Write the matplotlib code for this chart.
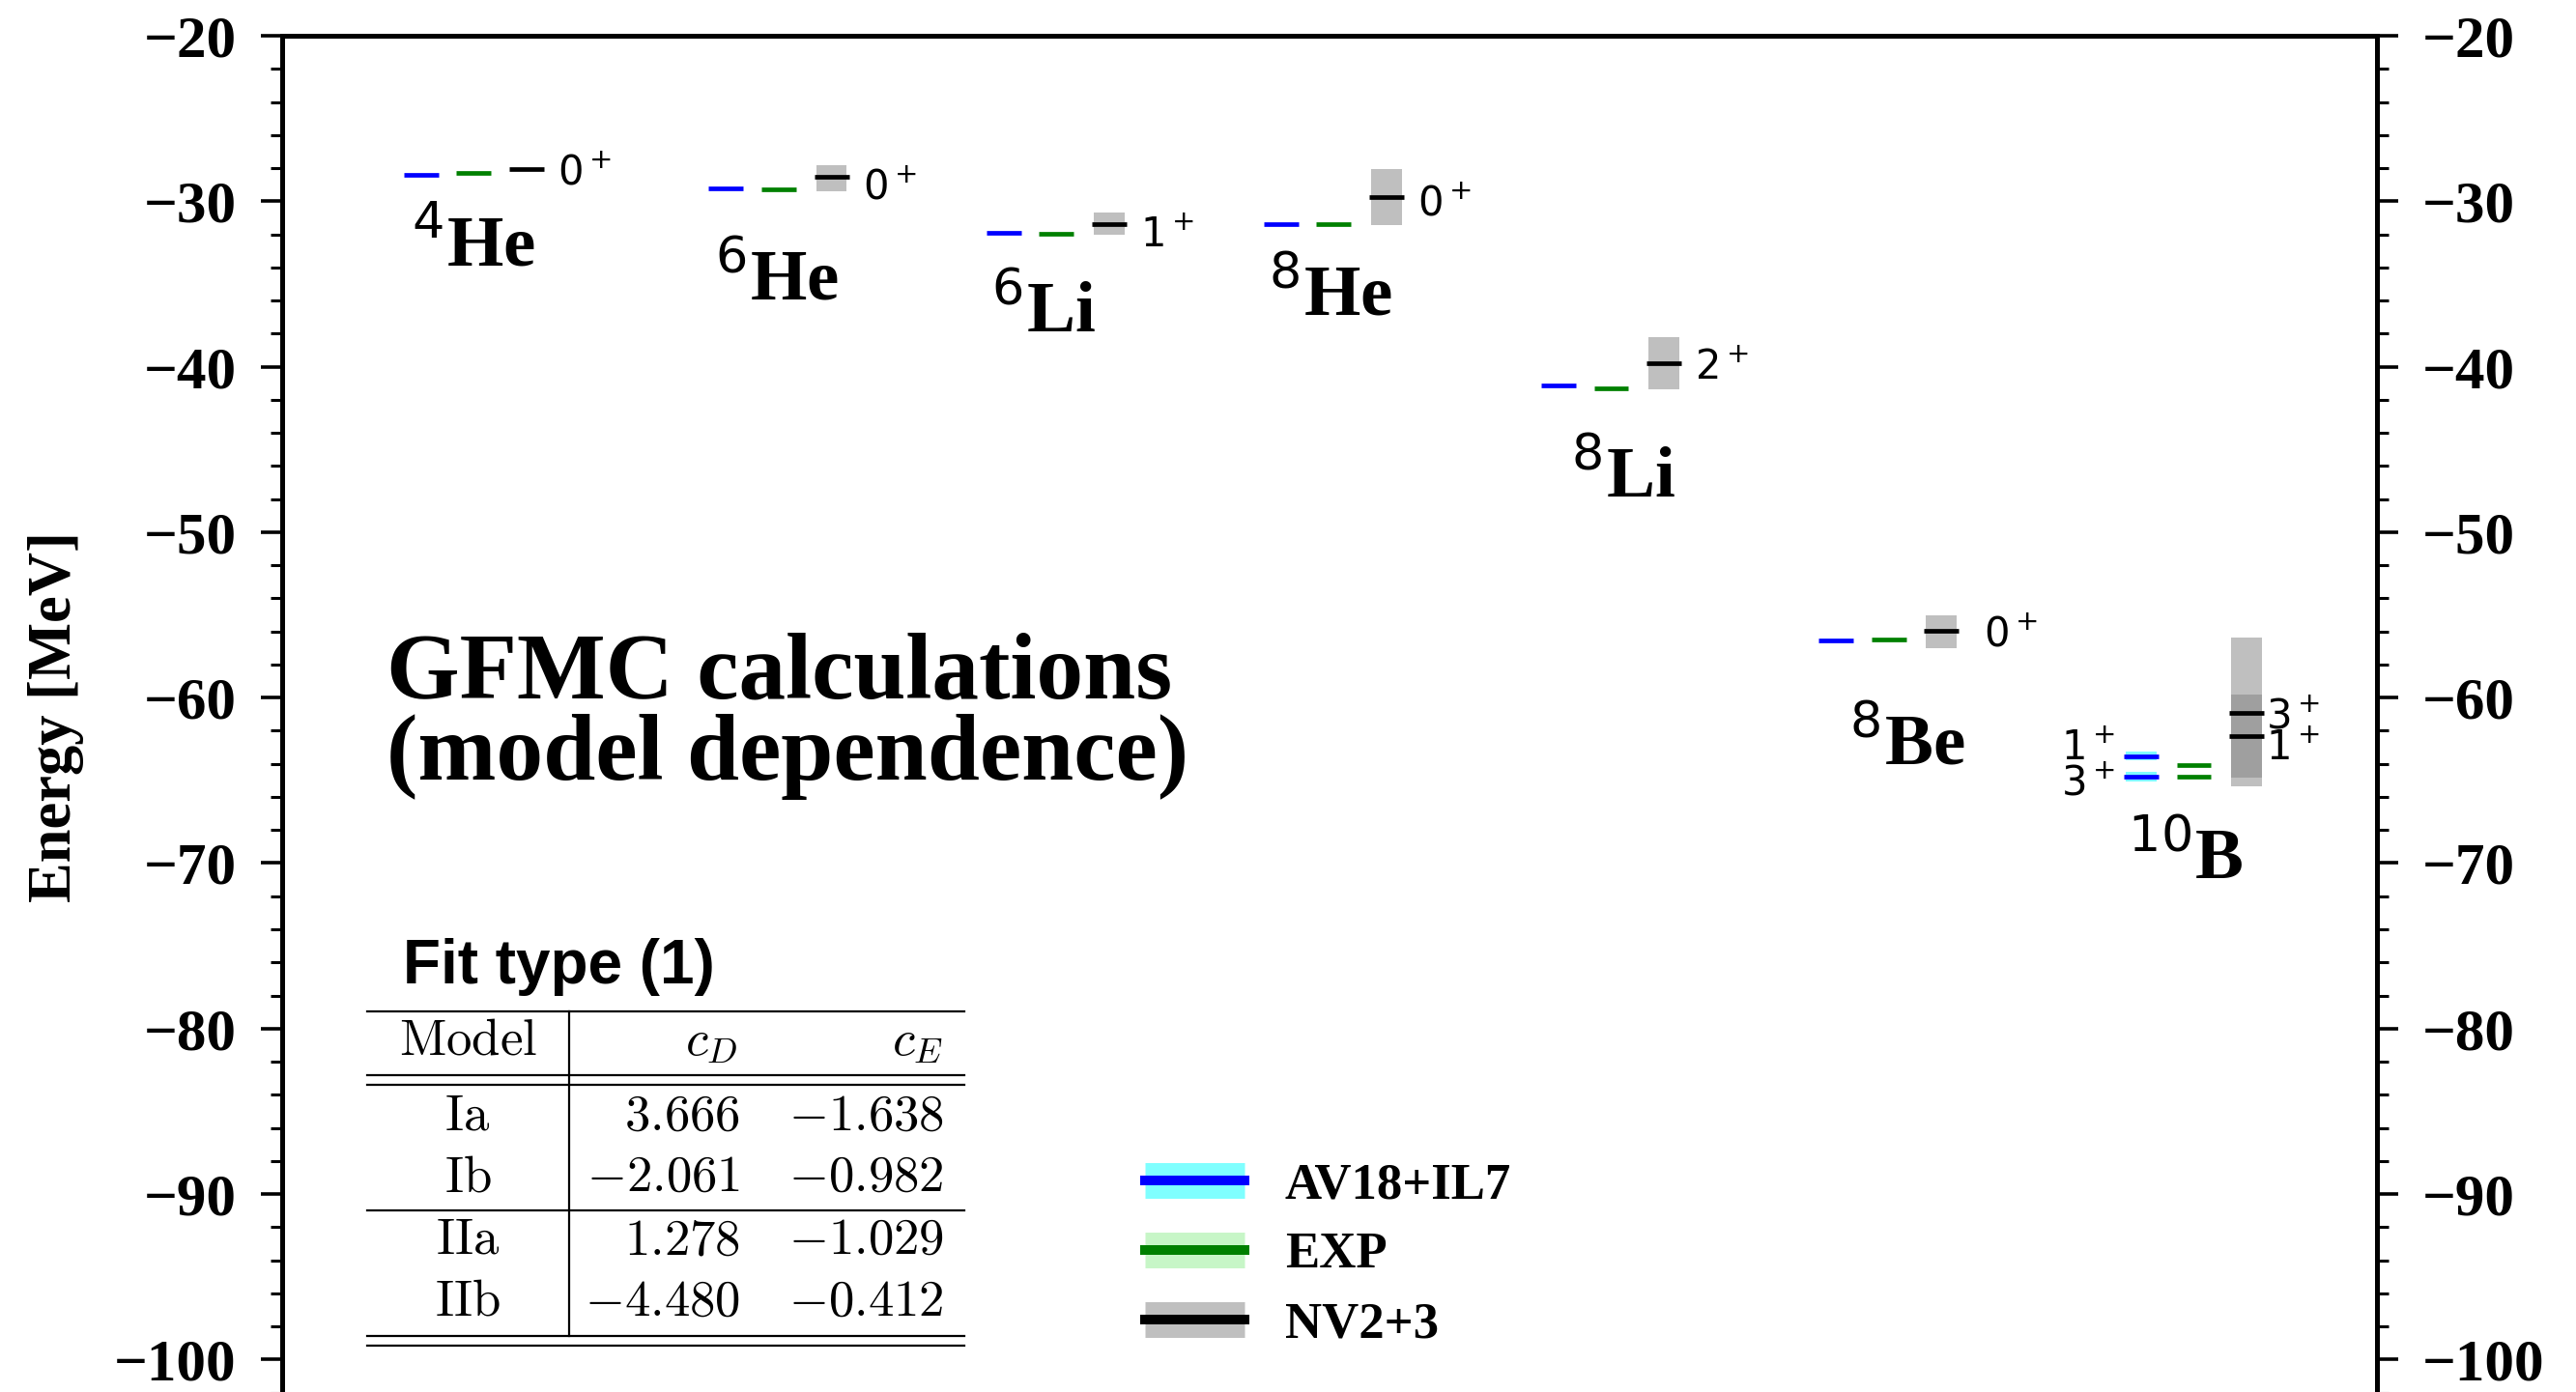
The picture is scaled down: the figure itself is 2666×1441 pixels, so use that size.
import matplotlib
matplotlib.use('Agg')
import matplotlib.pyplot as plt
from matplotlib.lines import Line2D
from matplotlib.legend_handler import HandlerTuple
from matplotlib.ticker import MultipleLocator

# nuclei shown, one column each
nuclei = [r'$^{4}$He', r'$^{6}$He', r'$^{6}$Li', r'$^{8}$He',
          r'$^{8}$Li', r'$^{8}$Be', r'$^{10}$B']

# levels (MeV): nucleus index, J^pi, AV18+IL7, EXP, NV2+3 with error bars
state_nucleus = [0, 1, 2, 3, 4, 5, 6, 6]
state_spin = ['0^+', '0^+', '1^+', '0^+', '2^+', '0^+', '3^+', '1^+']
e_av18 = [-28.41, -29.20, -31.90, -31.40, -41.15, -56.55, -64.77, -63.53]
err_av18 = [0.05, 0.05, 0.05, 0.10, 0.10, 0.10, 0.30, 0.25]
e_exp = [-28.30, -29.27, -31.99, -31.41, -41.28, -56.50, -64.75, -64.05]
e_nv = [-28.08, -28.54, -31.37, -29.75, -39.80, -55.98, -60.90, -62.30]
nv_plus = [0.0, 0.73, 0.69, 1.69, 1.56, 0.94, 4.53, 2.49]
nv_minus = [0.0, 0.84, 0.67, 1.71, 1.59, 1.01, 3.93, 3.08]

series = ['AV18+IL7', 'EXP', 'NV2+3']

# fit table
models = ['Ia', 'Ib', 'IIa', 'IIb']
c_D = [3.666, -2.061, 1.278, -4.480]
c_E = [-1.638, -0.982, -1.029, -0.412]

# ---- layout ----
W, H, DPI = 2666, 1441, 200
SERIF = 'Liberation Serif'
x_center = [0.5, 1.6, 2.6, 3.6, 4.6, 5.6, 6.7]
dx_exp, dx_nv = 0.19, 0.38
hw, bw = 0.0625, 0.055          # half widths of level lines / bands
label_x = [0.466, 1.559, 2.555, 3.554, 4.647, 5.649, 6.652]
label_y = [-33.95, -35.94, -37.9, -36.9, -47.9, -64.07, -70.96]
spin_dy = [0.02, -0.39, -0.48, -0.17, -0.05, 0.02, -0.02, -0.55]
spin_gap = [0.05, 0.05, 0.05, 0.05, 0.05, 0.09, 0.006, 0.006]
digit_half = 0.88

fig = plt.figure(figsize=(W / DPI, H / DPI), dpi=DPI)
ylo, yhi = -105, -20
px_per_mev = 17.13
ax_h = (yhi - ylo) * px_per_mev / H
ax_top = 1 - 37 / H
ax = fig.add_axes([292 / W, ax_top - ax_h, 2168 / W, ax_h])
ax.set_xlim(0, 7.55)
ax.set_ylim(ylo, yhi)


def level(x, e, color, lo=None, hi=None, band=None):
    if band is not None and hi > lo:
        ax.fill_between([x - bw, x + bw], [lo, lo], [hi, hi], color=band,
                        alpha=0.5, lw=0, zorder=1)
    ax.plot([x - hw, x + hw], [e, e], color=color, lw=1.7,
            solid_capstyle='butt', zorder=3)


for i, n in enumerate(state_nucleus):
    xc = x_center[n]
    level(xc, e_av18[i], 'blue', e_av18[i] - err_av18[i],
          e_av18[i] + err_av18[i], 'cyan')
    level(xc + dx_exp, e_exp[i], 'green')
    level(xc + dx_nv, e_nv[i], 'black', e_nv[i] - nv_minus[i],
          e_nv[i] + nv_plus[i], 'gray')
    ax.text(xc + dx_nv + hw + spin_gap[i], e_nv[i] + spin_dy[i] - digit_half,
            '$' + state_spin[i] + '$', fontsize=15, ha='left', va='baseline')

# 10B spins on the left of the AV18+IL7 levels
ax.text(x_center[6] - hw - 0.033, e_av18[7] + 0.68 - digit_half, '$1^+$',
        fontsize=15, ha='right', va='baseline')
ax.text(x_center[6] - hw - 0.033, e_av18[6] - 0.18 - digit_half, '$3^+$',
        fontsize=15, ha='right', va='baseline')

for name, lx, ly in zip(nuclei, label_x, label_y):
    ax.text(lx, ly, name, fontsize=27, fontfamily=SERIF, fontweight='bold',
            ha='left', va='baseline')

# axes styling
ax.set_xticks([])
ax.yaxis.set_major_locator(MultipleLocator(10))
ax.yaxis.set_minor_locator(MultipleLocator(2))
ax.tick_params(axis='y', which='both', direction='out', left=True,
               right=True, labelleft=True, labelright=True)
ax.tick_params(axis='y', which='major', length=8, width=1.3, pad=9)
ax.tick_params(axis='y', which='minor', length=4.3, width=1.1)
for lab in ax.get_yticklabels():
    lab.set_fontfamily(SERIF)
    lab.set_fontweight('bold')
    lab.set_fontsize(22)
for sp in ax.spines.values():
    sp.set_linewidth(1.8)
ax.set_ylabel('Energy [MeV]', fontsize=22.5, fontfamily=SERIF,
              fontweight='bold')
ax.yaxis.set_label_coords(-0.0946, 0.516)

# legend: thin line on a translucent band
handles = [(Line2D([], [], color=c, alpha=0.5, lw=13.3, solid_capstyle='butt'),
            Line2D([], [], color=l, lw=3.6))
           for c, l in [('cyan', 'blue'), ('lightgreen', 'green'),
                        ('gray', 'black')]]
leg = ax.legend(handles, series, handler_map={tuple: HandlerTuple(ndivide=1)},
                loc='center left', bbox_to_anchor=(0.402, 0.133),
                frameon=False, borderaxespad=0, handlelength=1.95,
                handletextpad=0.8, labelspacing=0.46,
                prop={'family': SERIF, 'weight': 'bold', 'size': 19})

# overlay in pixel units for the title text and the fit table
ov = fig.add_axes([0, 0, 1, 1])
ov.set_xlim(0, W)
ov.set_ylim(H, 0)
ov.axis('off')

ov.text(400, 722, 'GFMC calculations', fontsize=35, fontfamily=SERIF,
        fontweight='bold', va='baseline')
ov.text(400, 807, '(model dependence)', fontsize=35, fontfamily=SERIF,
        fontweight='bold', va='baseline')

ov.text(417, 1018, 'Fit type (1)', fontsize=23, fontfamily='Liberation Sans',
        fontweight='bold', va='baseline')
for y in [1047, 1113, 1123, 1253, 1383, 1393]:
    ov.plot([380, 998], [y, y], color='black', lw=0.8)
ov.plot([589, 589], [1047, 1383], color='black', lw=0.8)

tkw = dict(fontsize=19, math_fontfamily='cm', va='baseline')
ov.text(484, 1092, r'$\mathrm{Model}$', ha='center', **tkw)
ov.text(764, 1092, r'$c_D$', ha='right', **tkw)
ov.text(976, 1092, r'$c_E$', ha='right', **tkw)
for y, m, d, e in zip([1170, 1233, 1298, 1362], models, c_D, c_E):
    ov.text(484, y, r'$\mathrm{%s}$' % m, ha='center', **tkw)
    ov.text(766, y, '$%.3f$' % d, ha='right', **tkw)
    ov.text(977, y, '$%.3f$' % e, ha='right', **tkw)

fig.savefig('out.png', dpi=DPI)
